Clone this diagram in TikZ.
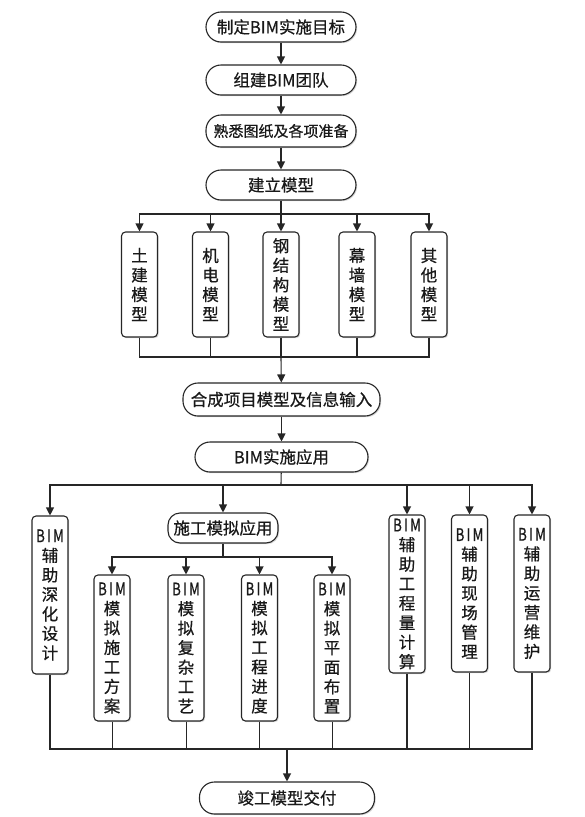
\documentclass[tikz,border=0pt]{standalone}
\usepackage{fontspec}
\usepackage{graphicx}
\newfontfamily\cjk[FakeBold=0.6]{Noto Sans CJK SC}
\usetikzlibrary{arrows.meta,shadows}
\newcommand{\bim}{\scalebox{0.8}[1.05]{B\,I\,M}}
\tikzset{
  base/.style={draw=black!85, line width=1.1pt, fill=white, text=black!90,
    drop shadow={shadow xshift=1.2pt, shadow yshift=-1.2pt, fill=black!25, opacity=0.6},
    inner sep=0pt, font=\cjk\fontsize{16.5}{19.5}\selectfont},
  term/.style={base, rounded corners=15pt, minimum height=30pt},
  vbox/.style={base, rounded corners=4pt, text width=34pt, align=center, minimum width=36pt},
  link/.style={draw=black!85, line width=1.1pt},
  arr/.style={link, -{Triangle[length=8pt,width=8pt]}},
  thin/.style={draw=black!85, line width=0.8pt}
}
\begin{document}
\begin{tikzpicture}[x=1pt, y=-1pt]
\useasboundingbox (0,0) rectangle (584,817);
% top chain
\node[term, minimum width=150pt] (t1) at (281,27) {制定BIM实施目标};
\node[term, minimum width=150pt] (t2) at (281,80) {组建BIM团队};
\node[term, minimum width=150pt, minimum height=32pt, font=\cjk\fontsize{15}{18}\selectfont] (t3) at (281,131) {熟悉图纸及各项准备};
\node[term, minimum width=150pt] (t4) at (281,185) {建立模型};
\draw[arr] (t1) -- (t2);
\draw[arr] (t2) -- (t3);
\draw[arr] (t3) -- (t4);
% model boxes
\node[vbox, minimum height=105pt] (b1) at (139.5,284.5) {土\\建\\模\\型};
\node[vbox, minimum height=105pt] (b2) at (210.5,284.5) {机\\电\\模\\型};
\node[vbox, minimum height=105pt] (b3) at (281,284.5) {钢\\结\\构\\模\\型};
\node[vbox, minimum height=105pt] (b4) at (357,284.5) {幕\\墙\\模\\型};
\node[vbox, minimum height=105pt] (b5) at (429,284.5) {其\\他\\模\\型};
\coordinate (j1) at (281,214);
\draw[link] (t4) -- (j1);
\foreach \b in {b1,b2,b3,b4,b5} \draw[arr] (j1) -| (\b.north);
% merge
\node[term, minimum width=197pt, minimum height=33pt] (m) at (281.5,399.5) {合成项目模型及信息输入};
\coordinate (j2) at (281,357);
\foreach \b in {b1,b2,b3,b4,b5} \draw[link] (\b.south) |- (j2);
\draw[arr] (j2) -- (m);
\node[term, minimum width=173pt] (app) at (281.5,457) {BIM实施应用};
\draw[arr] (m) -- (app);
% application row
\node[vbox, minimum height=158pt] (L) at (50,595) {\bim\\辅\\助\\深\\化\\设\\计};
\node[term, minimum width=110pt, rounded corners=12pt] (sim) at (223,528) {施工模拟应用};
\node[vbox, minimum height=158pt] (e) at (407,594) {\bim\\辅\\助\\工\\程\\量\\计\\算};
\node[vbox, minimum height=157pt] (f) at (469.5,593.5) {\bim\\辅\\助\\现\\场\\管\\理};
\node[vbox, minimum height=157pt] (g) at (532,593.5) {\bim\\辅\\助\\运\\营\\维\\护};
\coordinate (j3) at (281,485);
\draw[link] (app) -- (j3);
\foreach \b in {L,sim,e,f,g} \draw[arr] (j3) -| (\b.north);
% simulation sub boxes
\node[vbox, minimum height=146pt] (s1) at (112,648) {\bim\\模\\拟\\施\\工\\方\\案};
\node[vbox, minimum height=146pt] (s2) at (186,648) {\bim\\模\\拟\\复\\杂\\工\\艺};
\node[vbox, minimum height=146pt] (s3) at (259.5,648) {\bim\\模\\拟\\工\\程\\进\\度};
\node[vbox, minimum height=146pt] (s4) at (332,648) {\bim\\模\\拟\\平\\面\\布\\置};
\coordinate (j4) at (223,557);
\draw[link] (sim) -- (j4);
\foreach \b in {s1,s2,s3,s4} \draw[arr] (j4) -| (\b.north);
% bottom merge
\coordinate (j5) at (287,749);
\foreach \b in {L,e,f,g} \draw[link] (\b.south) |- (j5);
\foreach \b in {s1,s2,s3,s4} \draw[thin] (\b.south) -- (\b.south |- j5);
\node[term, minimum width=175pt, minimum height=32pt] (fin) at (287,798) {竣工模型交付};
\draw[arr] (j5) -- (fin);
\end{tikzpicture}
\end{document}
